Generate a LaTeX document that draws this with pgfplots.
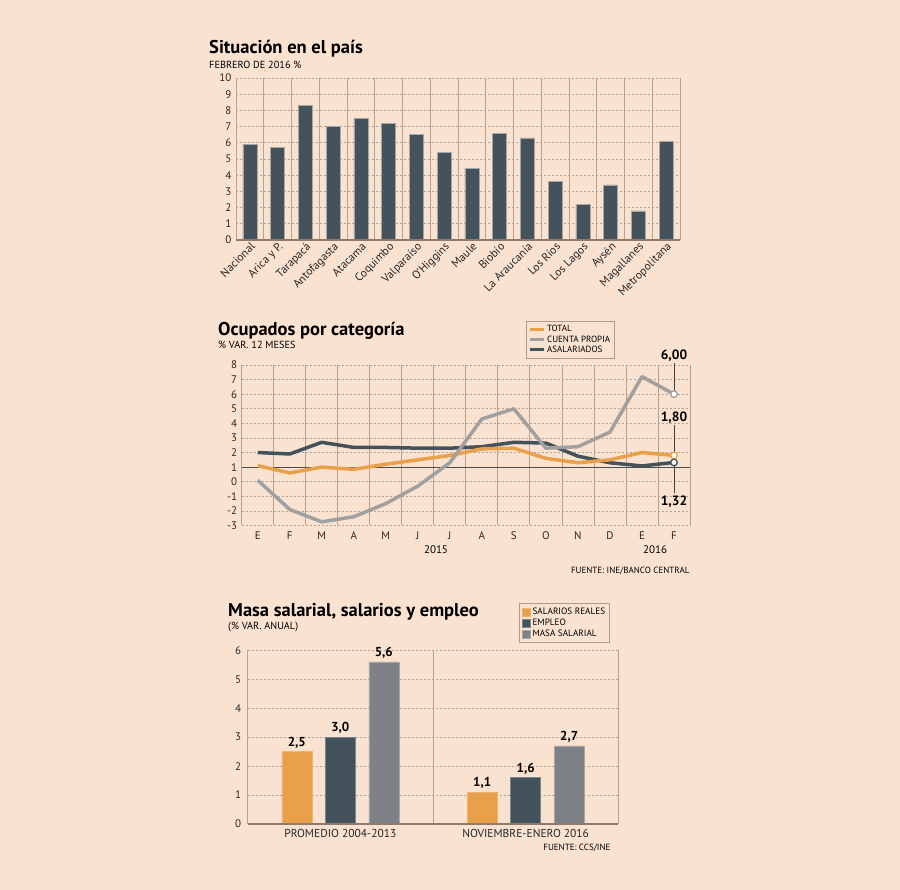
\documentclass[border=0pt]{standalone}
\usepackage{fontspec}
\setmainfont{PT Sans}
\usepackage{pgfplots}
\pgfplotsset{compat=1.18}
\definecolor{bg}{HTML}{FAE2D0}
\definecolor{barc}{HTML}{44525C}
\definecolor{vgrid}{HTML}{B6A293}
\definecolor{hgrid}{HTML}{B3A396}
\definecolor{axisl}{HTML}{8E7B6D}
\definecolor{org}{HTML}{E9A04B}
\definecolor{gry}{HTML}{A0A0A0}
\definecolor{mgry}{HTML}{7E8185}
\definecolor{legb}{HTML}{B39A88}
\pgfplotsset{
  /pgf/number format/assume math mode=true,
  every axis/.append style={
    scale only axis, anchor=south west,
    axis line style={draw=none},
    major tick length=0pt, minor tick length=0pt,
    tick style={draw=none},
    ticklabel style={font=\fontsize{11}{12}\selectfont, text=black!85},
    major grid style={hgrid, line width=0.6pt, dash pattern=on 2pt off 2pt},
    minor grid style={vgrid, line width=0.8pt},
  }
}
\begin{document}
\begin{tikzpicture}[x=1pt,y=1pt]
\fill[bg] (0,0) rectangle (900,890);

% ---------- Chart 1 ----------
\node[anchor=base west, inner sep=0pt, font=\fontsize{18.5}{20}\selectfont\bfseries] at (209,836) {Situación en el país};
\node[anchor=base west, inner sep=0pt, font=\fontsize{10.3}{12}\selectfont] at (209,821) {FEBRERO DE 2016 \%};
\begin{axis}[at={(236pt,650pt)}, width=444pt, height=162pt,
  xmin=-0.5, xmax=15.5, ymin=0, ymax=10,
  ybar, bar width=14pt,
  xtick={0,...,15},
  xticklabels={Nacional,Arica y P.,Tarapacá,Antofagasta,Atacama,Coquimbo,Valparaíso,O'Higgins,Maule,Biobío,La Araucanía,Los Ríos,Los Lagos,Aysén,Magallanes,Metropolitana},
  xticklabel style={rotate=45, anchor=north east, inner sep=1pt, font=\fontsize{11.5}{12}\selectfont},
  minor xtick={-0.5,0.5,...,15.5}, xminorgrids=true,
  ytick={0,...,10}, ymajorgrids=true,
  yticklabel style={xshift=-1pt},
  clip=false]
\addplot[fill=barc, draw=black!35, line width=0.5pt] coordinates {
(0,5.9) (1,5.7) (2,8.3) (3,7.0) (4,7.5) (5,7.2) (6,6.5) (7,5.4)
(8,4.4) (9,6.6) (10,6.3) (11,3.6) (12,2.2) (13,3.4) (14,1.8) (15,6.1)};
\draw[axisl, line width=2pt] (axis cs:-0.5,0) -- (axis cs:15.5,0);
\end{axis}

% ---------- Chart 2 ----------
\node[anchor=base west, inner sep=0pt, font=\fontsize{18.5}{20}\selectfont\bfseries] at (218,554) {Ocupados por categoría};
\node[anchor=base west, inner sep=0pt, font=\fontsize{10.3}{12}\selectfont] at (218,541) {\% VAR. 12 MESES};
\begin{axis}[at={(241.7pt,364.5pt)}, width=448.3pt, height=160.5pt,
  xmin=-0.5, xmax=13.5, ymin=-3, ymax=8,
  xtick={0,...,13}, xticklabels={E,F,M,A,M,J,J,A,S,O,N,D,E,F},
  xticklabel style={yshift=-3pt},
  minor xtick={-0.5,0.5,...,13.5}, xminorgrids=true,
  ytick={-3,...,8}, ymajorgrids=true,
  yticklabel style={xshift=-1pt},
  clip=false,
  legend style={at={(0.634,1.274)}, anchor=north west, draw=legb, fill=bg,
    font=\fontsize{9}{9.5}\selectfont, inner sep=2pt, row sep=-1.5pt,
    /tikz/every even column/.append style={column sep=3pt}},
  legend cell align=left,
  legend image code/.code={\draw[#1, line width=3pt] (0pt,0pt) -- (14pt,0pt);}]
\addlegendimage{org}\addlegendentry{TOTAL}
\addlegendimage{gry}\addlegendentry{CUENTA PROPIA}
\addlegendimage{barc}\addlegendentry{ASALARIADOS}
\draw[black!70, line width=0.8pt] (axis cs:-0.5,1) -- (axis cs:13.5,1);
\addplot[forget plot, barc, line width=3.5pt, line join=round] coordinates {
(0,2.0) (1,1.9) (2,2.7) (3,2.35) (4,2.35) (5,2.3) (6,2.3) (7,2.4) (8,2.7) (9,2.65) (10,1.75) (11,1.3) (12,1.08) (13,1.32)};
\addplot[forget plot, org, line width=3.5pt, line join=round] coordinates {
(0,1.1) (1,0.6) (2,1.0) (3,0.85) (4,1.2) (5,1.5) (6,1.8) (7,2.25) (8,2.3) (9,1.6) (10,1.3) (11,1.5) (12,2.0) (13,1.80)};
\addplot[forget plot, gry, line width=3.5pt, line join=round] coordinates {
(0,0.1) (1,-1.9) (2,-2.75) (3,-2.4) (4,-1.5) (5,-0.3) (6,1.3) (7,4.3) (8,5.0) (9,2.3) (10,2.4) (11,3.4) (12,7.2) (13,6.00)};
\draw[black!75, line width=0.7pt] (axis cs:13,8.15) -- (axis cs:13,6.0);
\draw[black!75, line width=0.7pt] (axis cs:13,3.9) -- (axis cs:13,1.8);
\draw[black!75, line width=0.7pt] (axis cs:13,1.32) -- (axis cs:13,-0.75);
\addplot[forget plot, only marks, mark=*, mark size=3.3pt, mark options={fill=white, draw=gry, line width=1.3pt}] coordinates {(13,6.00)};
\addplot[forget plot, only marks, mark=*, mark size=3.3pt, mark options={fill=white, draw=org, line width=1.3pt}] coordinates {(13,1.80)};
\addplot[forget plot, only marks, mark=*, mark size=3.3pt, mark options={fill=white, draw=barc, line width=1.3pt}] coordinates {(13,1.32)};
\node[font=\fontsize{13.5}{14}\selectfont\bfseries, anchor=base] at (axis cs:13,8.4) {6,00};
\node[font=\fontsize{13.5}{14}\selectfont\bfseries, anchor=base] at (axis cs:13,4.15) {1,80};
\node[font=\fontsize{13.5}{14}\selectfont\bfseries, anchor=base] at (axis cs:13,-1.6) {1,32};
\end{axis}
\node[font=\fontsize{11}{12}\selectfont] at (436,340) {2015};
\node[font=\fontsize{11}{12}\selectfont] at (655,340) {2016};
\node[anchor=east, font=\fontsize{9}{10}\selectfont] at (693,319) {FUENTE: INE/BANCO CENTRAL};

% ---------- Chart 3 ----------
\node[anchor=base west, inner sep=0pt, font=\fontsize{18.5}{20}\selectfont\bfseries] at (228,273) {Masa salarial, salarios y empleo};
\node[anchor=base west, inner sep=0pt, font=\fontsize{10.3}{12}\selectfont] at (228,260) {(\% VAR. ANUAL)};
\begin{axis}[at={(247.7pt,66pt)}, width=370.6pt, height=173.7pt,
  xmin=-0.5, xmax=1.5, ymin=0, ymax=6,
  ybar=13.5pt, bar width=30pt,
  xtick={0,1}, xticklabels={PROMEDIO 2004-2013,NOVIEMBRE-ENERO 2016},
  xticklabel style={font=\fontsize{11.5}{12}\selectfont, yshift=-2pt},
  ytick={0,...,6}, ymajorgrids=true,
  yticklabel style={xshift=-3pt},
  clip=false,
  nodes near coords,
  nodes near coords style={font=\fontsize{13}{14}\selectfont\bfseries, text=black,
    /pgf/number format/.cd, fixed, fixed zerofill, precision=1, use comma},
  legend style={at={(0.733,1.2706)}, anchor=north west, draw=legb, fill=bg,
    font=\fontsize{9.2}{10}\selectfont, inner sep=2.5pt, row sep=-1pt,
    /tikz/every even column/.append style={column sep=3pt}},
  legend cell align=left,
  legend image code/.code={\fill[#1] (0pt,-4pt) rectangle (8pt,4pt);}]
\draw[vgrid, line width=0.8pt] (axis cs:-0.5,0) -- (axis cs:-0.5,6);
\draw[vgrid, line width=0.8pt] (axis cs:0.5,0) -- (axis cs:0.5,6);
\draw[vgrid, line width=0.8pt] (axis cs:1.5,0) -- (axis cs:1.5,6);
\addplot[fill=org, draw=org!80!white, line width=0.5pt] coordinates {(0,2.5) (1,1.1)};
\addplot[fill=barc, draw=barc!70!white, line width=0.5pt] coordinates {(0,3.0) (1,1.6)};
\addplot[fill=mgry, draw=mgry!70!white, line width=0.5pt] coordinates {(0,5.6) (1,2.7)};
\legend{SALARIOS REALES,EMPLEO,MASA SALARIAL}
\draw[axisl, line width=1.6pt] (axis cs:-0.5,0) -- (axis cs:1.5,0);
\end{axis}
\node[anchor=east, font=\fontsize{9}{10}\selectfont] at (614,42) {FUENTE: CCS/INE};

\pgfresetboundingbox
\useasboundingbox (0,0) rectangle (900,890);
\end{tikzpicture}
\end{document}
